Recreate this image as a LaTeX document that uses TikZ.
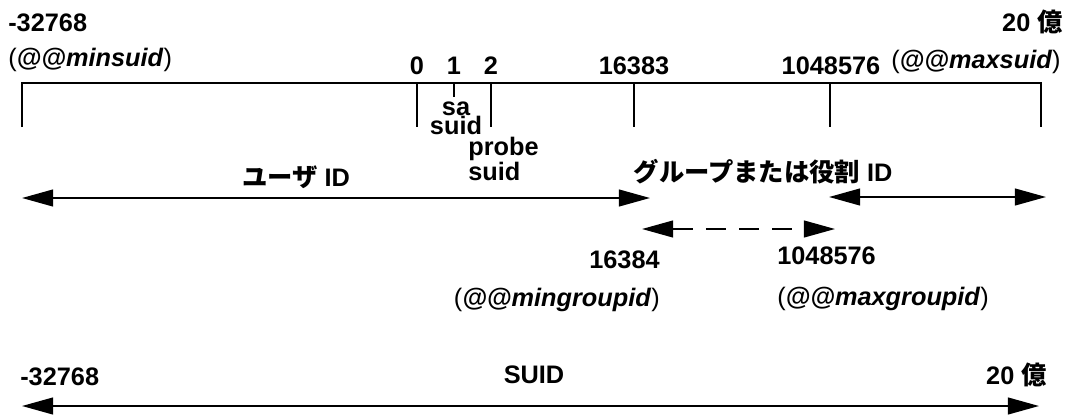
\documentclass[tikz,border=0pt]{standalone}
\usepackage{fontspec}
\setmainfont{Liberation Sans}
\newfontfamily\jpfont{Noto Sans CJK JP}
\usetikzlibrary{arrows.meta}

% global variable name in parentheses, e.g. (@@minsuid)
\newcommand{\sysvar}[1]{(\textbf{\textit{@@#1}})}

\tikzset{
  lbl/.style={font=\fontsize{18}{13.5}\selectfont\bfseries, inner sep=0pt},
  var/.style={font=\fontsize{18}{13.5}\selectfont, inner sep=0pt},
  axis/.style={line width=1.4pt},
  spanarrow/.style={line width=1.4pt,
    arrows={Triangle[length=0.78cm,width=0.42cm]-Triangle[length=0.78cm,width=0.42cm]}},
}

\begin{document}
\begin{tikzpicture}[x=0.025cm, y=-0.025cm]
  \useasboundingbox (0,0) rectangle (1076,414);

  % suid number line
  \draw[axis] (22,127) -- (22,83) -- (1041,83) -- (1041,127);
  \foreach \x in {417,491,634,830}{
    \draw[axis] (\x,83) -- (\x,127);
  }
  \draw[axis] (454,83) -- (454,97);

  % values above the line
  \node[lbl, anchor=base west] (minval) at (8,31) {-32768};
  \node[var, anchor=base west] (minsuid) at (8,66) {\sysvar{minsuid}};
  \node[lbl, anchor=base east] (maxval) at (1063,31) {20 {\jpfont 億}};
  \node[var, anchor=base west] (maxsuid) at (891,68) {\sysvar{maxsuid}};
  \foreach \x/\v in {417/0,454/1,491/2,634/16383,831/1048576}{
    \node[lbl, anchor=base] (t\v) at (\x,74) {\v};
  }

  % reserved ids (base sits on the last line)
  \node[lbl, align=center, anchor=base] (sa) at (456,134) {sa\\suid};
  \node[lbl, align=left, anchor=base west] (probe) at (468,180) {probe\\suid};

  % user and group ranges
  \node[lbl, anchor=base] (userid) at (296,186) {{\jpfont ユーザ} ID};
  \node[lbl, anchor=base] (groupid) at (763,181) {{\jpfont グループまたは役割} ID};

  \coordinate (u1) at (22,198);
  \coordinate (u2) at (650,198);
  \coordinate (g1) at (829,197);
  \coordinate (g2) at (1046,197);
  \draw[spanarrow] (u1) -- (u2);
  \draw[spanarrow] (g1) -- (g2);

  \coordinate (d1) at (642,229);
  \coordinate (d2) at (835,229);
  \draw[spanarrow, dash pattern=on 0.5cm off 0.33cm] (d1) -- (d2);

  \node[lbl, anchor=base east] (mingrp) at (660,268) {16384};
  \node[var, anchor=base east] (mingroupid) at (660,306) {\sysvar{mingroupid}};
  \node[lbl, anchor=base west] (maxgrp) at (777,264) {1048576};
  \node[var, anchor=base west] (maxgroupid) at (777,305) {\sysvar{maxgroupid}};

  % whole suid range
  \node[lbl, anchor=base west] (lo) at (20,385) {-32768};
  \node[lbl, anchor=base] (suid) at (534,383) {SUID};
  \node[lbl, anchor=base east] (hi) at (1047,384) {20 {\jpfont 億}};

  \coordinate (s1) at (22,406);
  \coordinate (s2) at (1039,406);
  \draw[spanarrow] (s1) -- (s2);
\end{tikzpicture}
\end{document}
